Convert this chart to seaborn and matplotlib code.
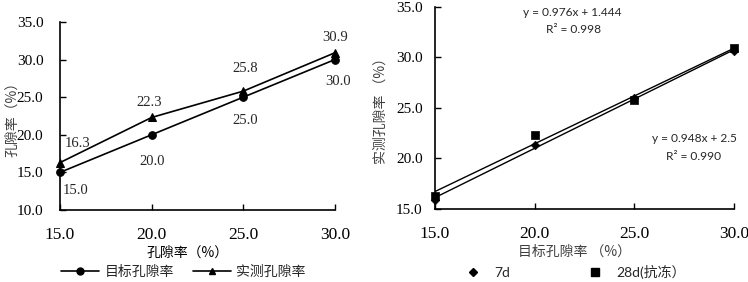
import matplotlib
matplotlib.use("Agg")
import matplotlib.pyplot as plt
import seaborn as sns
import numpy as np
import pandas as pd
from matplotlib.lines import Line2D

sns.set_theme(style="white")
plt.rcParams['font.family'] = ['Noto Sans CJK SC', 'DejaVu Sans']

# ---- data ----
x_vals = [15.0, 20.0, 25.0, 30.0]
target = [15.0, 20.0, 25.0, 30.0]
measured = [16.3, 22.3, 25.8, 30.9]
d7 = [15.9, 21.3, 26.0, 30.6]
d28 = [16.3, 22.3, 25.8, 30.9]
left_yticks = [10.0, 15.0, 20.0, 25.0, 30.0, 35.0]
right_yticks = [15.0, 20.0, 25.0, 30.0, 35.0]
xticks = [15.0, 20.0, 25.0, 30.0]
eq7 = "y = 0.976x + 1.444"
r7 = "R² = 0.998"
eq28 = "y = 0.948x + 2.5"
r28 = "R² = 0.990"

serif = 'Liberation Serif'
cjk = ['Noto Sans CJK SC', 'DejaVu Sans']
lab_color = '#404040'

fig = plt.figure(figsize=(7.48, 2.82), dpi=100)
ax1 = fig.add_axes([0.0802, 0.2553, 0.3676, 0.667])
ax2 = fig.add_axes([0.5816, 0.2589, 0.3997, 0.7163])

df = pd.DataFrame({'x': x_vals, '目标孔隙率': target, '实测孔隙率': measured})

# ---- left panel ----
sns.lineplot(data=df, x='x', y='目标孔隙率', ax=ax1, color='black', lw=1.2,
             marker='o', markersize=5.5, markeredgecolor='black', clip_on=False)
sns.lineplot(data=df, x='x', y='实测孔隙率', ax=ax1, color='black', lw=1.2,
             marker='^', markersize=5.5, markeredgecolor='black', clip_on=False)
ax1.set_xlim(15, 30)
ax1.set_ylim(10, 35)
ax1.set_xticks(xticks)
ax1.set_yticks(left_yticks)
ax1.set_xticklabels([f"{v:.1f}" for v in xticks], fontfamily=serif, fontsize=12.5)
ax1.set_yticklabels([f"{v:.1f}" for v in left_yticks], fontfamily=serif, fontsize=11)
ax1.set_xlabel("孔隙率（%）", fontsize=10, family=cjk, color='black')
ax1.set_ylabel("孔隙率（%）", fontsize=10, family=cjk, color=lab_color)
ax1.xaxis.set_label_coords(0.465, -0.19)
ax1.yaxis.set_label_coords(-0.15, 0.5)

# annotations (offsets in points from each point)
off_meas = [(13, 14), (-2, 11), (1, 16), (0, 11)]
off_targ = [(11.5, -13.4), (0, -19.5), (1, -17), (2, -16)]
for xv, yv, o in zip(x_vals, measured, off_meas):
    ax1.annotate(f"{yv:.1f}", (xv, yv), xytext=o, textcoords='offset points',
                 ha='center', va='center', fontfamily=serif, fontsize=10.5)
for xv, yv, o in zip(x_vals, target, off_targ):
    ax1.annotate(f"{yv:.1f}", (xv, yv), xytext=o, textcoords='offset points',
                 ha='center', va='center', fontfamily=serif, fontsize=10.5)

h1 = [Line2D([], [], color='black', lw=1.2, marker='o', markersize=5),
      Line2D([], [], color='black', lw=1.2, marker='^', markersize=5)]
ax1.legend(h1, ['目标孔隙率', '实测孔隙率'], loc='center',
           bbox_to_anchor=(0.449, -0.33), ncol=2, frameon=False,
           prop={'family': cjk, 'size': 10}, handlelength=2.7,
           columnspacing=1.4, handletextpad=0.4, borderpad=0)

# ---- right panel ----
df2 = pd.DataFrame({'x': x_vals, '7d': d7, '28d': d28})
sns.regplot(data=df2, x='x', y='7d', ax=ax2, ci=None, scatter=False, truncate=True,
            line_kws={'color': 'black', 'lw': 1.0})
sns.regplot(data=df2, x='x', y='28d', ax=ax2, ci=None, scatter=False, truncate=True,
            line_kws={'color': 'black', 'lw': 1.0})
sns.scatterplot(data=df2, x='x', y='7d', ax=ax2, marker='D', s=20, color='black',
                edgecolor='black', clip_on=False, zorder=3)
sns.scatterplot(data=df2, x='x', y='28d', ax=ax2, marker='s', s=38, color='black',
                edgecolor='black', clip_on=False, zorder=3)
ax2.set_xlim(15, 30)
ax2.set_ylim(15, 35)
ax2.set_xticks(xticks)
ax2.set_yticks(right_yticks)
ax2.set_xticklabels([f"{v:.1f}" for v in xticks], fontfamily=serif, fontsize=12.5)
ax2.set_yticklabels([f"{v:.1f}" for v in right_yticks], fontfamily=serif, fontsize=11)
ax2.set_xlabel("目标孔隙率 （%）", fontsize=10, family=cjk, color=lab_color)
ax2.set_ylabel("实测孔隙率 （%）", fontsize=10, family=cjk, color=lab_color)
ax2.xaxis.set_label_coords(0.465, -0.178)
ax2.yaxis.set_label_coords(-0.16, 0.5)

tf = 'Lato'
fs_eq = 8.6
ax2.text(0.458, 0.975, eq7, transform=ax2.transAxes, ha='center', va='center',
         fontfamily=tf, fontsize=fs_eq)
ax2.text(0.462, 0.89, r7, transform=ax2.transAxes, ha='center', va='center',
         fontfamily=tf, fontsize=fs_eq)
ax2.text(0.866, 0.351, eq28, transform=ax2.transAxes, ha='center', va='center',
         fontfamily=tf, fontsize=fs_eq)
ax2.text(0.866, 0.262, r28, transform=ax2.transAxes, ha='center', va='center',
         fontfamily=tf, fontsize=fs_eq)

h2 = [Line2D([], [], ls='none', color='black', marker='D', markersize=4),
      Line2D([], [], ls='none', color='black', marker='s', markersize=6)]
ax2.legend(h2, ['7d', '28d(抗冻）'], loc='center',
           bbox_to_anchor=(0.465, -0.312), ncol=2, frameon=False,
           prop={'family': ['Lato', 'Noto Sans CJK SC'], 'size': 10},
           handlelength=1.5, columnspacing=5.3, handletextpad=0.8, borderpad=0)

for ax in (ax1, ax2):
    for s in ['top', 'right']:
        ax.spines[s].set_visible(False)
    for s in ['left', 'bottom']:
        ax.spines[s].set_color('black')
        ax.spines[s].set_linewidth(1.2)
    ax.tick_params(axis='both', direction='in', length=4, width=1, color='black',
                   labelcolor='black', left=True, bottom=True)
    ax.tick_params(axis='x', pad=12)
    ax.grid(False)
ax1.tick_params(axis='y', pad=12)
ax2.tick_params(axis='y', pad=9)

fig.savefig("out.png", dpi=100, facecolor='white')
